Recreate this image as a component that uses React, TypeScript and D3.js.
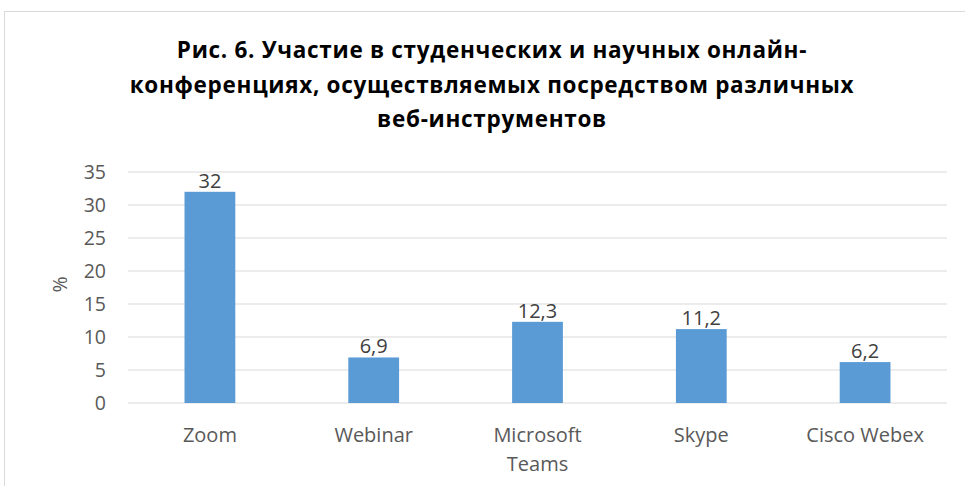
import React from "react";
import * as d3 from "d3";

const categories: string[][] = [["Zoom"], ["Webinar"], ["Microsoft", "Teams"], ["Skype"], ["Cisco Webex"]];
const values: number[] = [32, 6.9, 12.3, 11.2, 6.2];
const valueLabels: string[] = ["32", "6,9", "12,3", "11,2", "6,2"];
const yTicks: number[] = [0, 5, 10, 15, 20, 25, 30, 35];
const titleLines: string[] = [
  "Рис. 6. Участие в студенческих и научных онлайн-",
  "конференциях, осуществляемых посредством различных",
  "веб-инструментов",
];

export default function App() {
  const W = 965, H = 486;
  const left = 128, right = 947, top = 172, bottom = 403;
  const x = d3.scaleBand<number>().domain(d3.range(values.length)).range([left, right]).paddingInner(0.69).paddingOuter(0.345);
  const y = d3.scaleLinear().domain([0, 35]).range([bottom, top]);
  const font = "'Open Sans', 'Noto Sans', sans-serif";
  return (
    <svg width={W} height={H} style={{ position: "absolute", left: 0, top: 0, background: "#fff" }}>
      <rect x={4.5} y={11.5} width={990} height={500} fill="#fff" stroke="#d9d9d9" strokeWidth={1} />
      {titleLines.map((t, i) => (
        <text key={i} x={492} y={58 + i * 34.5} textAnchor="middle" fontFamily={font} fontWeight={700} fontSize={22.5} letterSpacing={0.7} fill="#000">
          {t}
        </text>
      ))}
      {yTicks.map((t) => (
        <g key={t}>
          <line x1={left} x2={right} y1={y(t)} y2={y(t)} stroke="#d9d9d9" strokeWidth={1} />
          <text x={106} y={y(t) + 7} textAnchor="end" fontFamily={font} fontSize={19.5} fill="#595959">{t}</text>
        </g>
      ))}
      <text transform={`translate(67,${(top + bottom) / 2 - 3}) rotate(-90)`} textAnchor="middle" fontFamily={font} fontSize={19.5} fill="#595959">%</text>
      {values.map((v, i) => (
        <g key={i}>
          <rect x={x(i)} y={y(v)} width={x.bandwidth()} height={bottom - y(v)} fill="#5b9bd5" />
          <text x={(x(i) as number) + x.bandwidth() / 2} y={y(v) - 4} textAnchor="middle" fontFamily={font} fontSize={20} fill="#404040">{valueLabels[i]}</text>
          {categories[i].map((line, j) => (
            <text key={j} x={(x(i) as number) + x.bandwidth() / 2} y={442 + j * 29} textAnchor="middle" fontFamily={font} fontSize={20} fill="#595959">{line}</text>
          ))}
        </g>
      ))}
    </svg>
  );
}
